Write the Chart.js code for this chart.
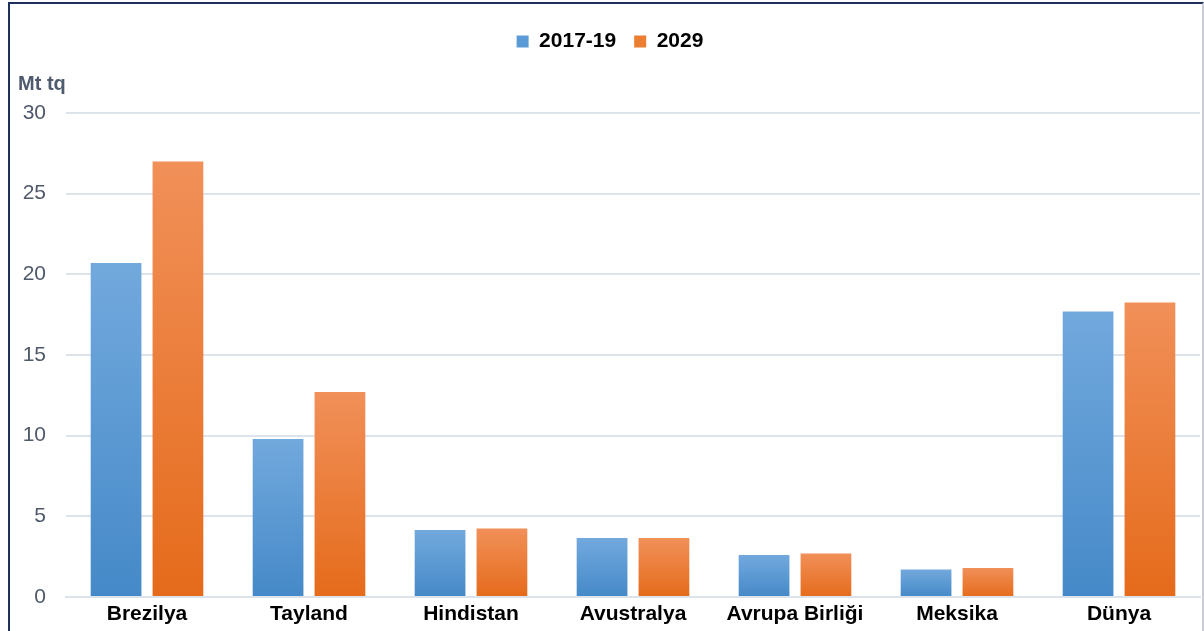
<!DOCTYPE html>
<html>
<head>
<meta charset="utf-8">
<script src="https://cdn.jsdelivr.net/npm/chart.js@4"></script>
<style>
  html, body { margin: 0; padding: 0; background: #fff; }
  #wrap { position: relative; width: 1204px; height: 631px; overflow: hidden; }
  #frame {
    position: absolute; left: 8px; top: 2px; width: 1192px; height: 700px;
    border-left: 2px solid #1f2f5e; border-top: 2px solid #1f2f5e; border-right: 2px solid #c9ced6;
    pointer-events: none;
  }
  canvas { position: absolute; left: 0; top: 0; }
</style>
</head>
<body>
<div id="wrap">
  <canvas id="grafico" width="1204" height="631"></canvas>
  <div id="frame"></div>
</div>
<script>
const categorias = ['Brezilya', 'Tayland', 'Hindistan', 'Avustralya', 'Avrupa Birliği', 'Meksika', 'Dünya'];
const serie2017 = [20.7, 9.8, 4.15, 3.65, 2.6, 1.7, 17.7];
const serie2029 = [27.0, 12.7, 4.25, 3.65, 2.7, 1.8, 18.25];
const ticksY = [0, 5, 10, 15, 20, 25, 30];

const fuente = '"Liberation Sans", Arial, sans-serif';

function degradado(ctx, arriba, abajo) {
  const chart = ctx.chart;
  if (!chart.chartArea || !chart.scales.y) return abajo;
  const y = chart.scales.y;
  const top = y.getPixelForValue(ctx.raw);
  const base = y.getPixelForValue(0);
  const g = chart.ctx.createLinearGradient(0, top, 0, base);
  g.addColorStop(0, arriba);
  g.addColorStop(1, abajo);
  return g;
}

// espacio extra debajo de la leyenda
const espacioLeyenda = {
  id: 'espacioLeyenda',
  beforeInit(chart) {
    const fitOrig = chart.legend.fit;
    chart.legend.fit = function () {
      fitOrig.bind(chart.legend)();
      this.height += 51;
    };
  }
};

const tituloEje = {
  id: 'tituloEje',
  afterDraw(chart) {
    const c = chart.ctx;
    c.save();
    c.font = 'bold 20px ' + fuente;
    c.fillStyle = '#4e5b6e';
    c.textBaseline = 'middle';
    c.fillText('Mt tq', 18, 84);
    c.restore();
  }
};

new Chart(document.getElementById('grafico'), {
  type: 'bar',
  data: {
    labels: categorias,
    datasets: [
      {
        label: '2017-19',
        data: serie2017,
        backgroundColor: ctx => degradado(ctx, '#72a9dd', '#4589c8')
      },
      {
        label: '2029',
        data: serie2029,
        backgroundColor: ctx => degradado(ctx, '#f19059', '#e56b1b')
      }
    ]
  },
  options: {
    responsive: false,
    animation: false,
    categoryPercentage: 0.764,
    barPercentage: 0.82,
    layout: { padding: { left: 20, right: 4, top: 13, bottom: 0 } },
    plugins: {
      legend: {
        position: 'top',
        labels: {
          boxWidth: 12,
          boxHeight: 12,
          padding: 18,
          color: '#000',
          font: { family: fuente, size: 21, weight: 'bold' },
          generateLabels: chart => [
            { text: '2017-19', fillStyle: '#5b9bd5', strokeStyle: '#5b9bd5', lineWidth: 0, datasetIndex: 0 },
            { text: '2029', fillStyle: '#ed7d31', strokeStyle: '#ed7d31', lineWidth: 0, datasetIndex: 1 }
          ]
        }
      },
      tooltip: { enabled: false }
    },
    scales: {
      x: {
        afterFit: axis => { axis.height = 34; },
        grid: { display: false },
        border: { display: true, color: '#dde3ea', width: 2 },
        ticks: {
          color: '#000',
          padding: -3,
          font: { family: fuente, size: 21, weight: 'bold' }
        }
      },
      y: {
        min: 0,
        max: 30,
        afterFit: axis => { axis.width = 46; },
        afterBuildTicks: axis => { axis.ticks = ticksY.map(v => ({ value: v })); },
        grid: { color: '#dde3ea', lineWidth: 2, drawTicks: false },
        border: { display: false },
        ticks: {
          color: '#4f596a',
          padding: 20,
          font: { family: fuente, size: 21 }
        }
      }
    }
  },
  plugins: [espacioLeyenda, tituloEje]
});
</script>
</body>
</html>
